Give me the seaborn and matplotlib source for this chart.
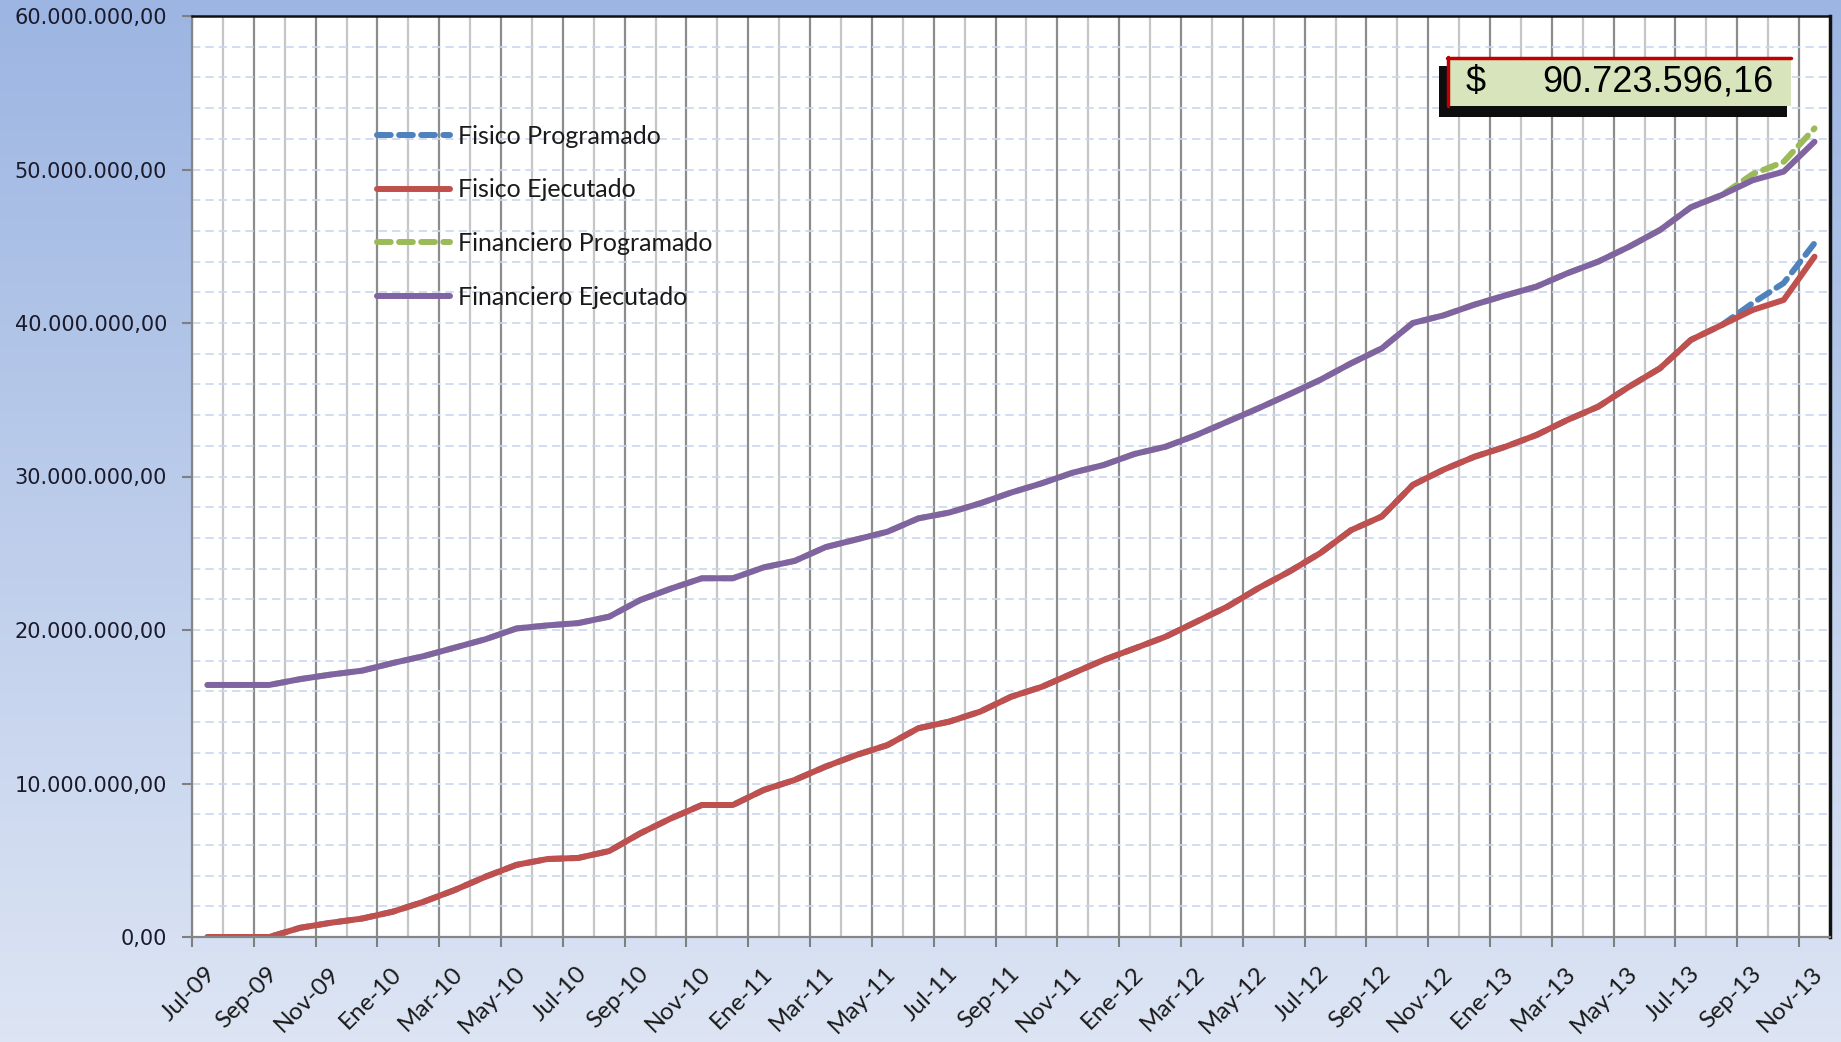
import numpy as np
import pandas as pd
import matplotlib.pyplot as plt
import matplotlib.ticker as mticker
import matplotlib.transforms as mtransforms
from matplotlib.patches import Rectangle
from matplotlib.lines import Line2D
import seaborn as sns

# meses Jul-09 .. Nov-13
nombres = ['Ene', 'Feb', 'Mar', 'Abr', 'May', 'Jun', 'Jul', 'Ago', 'Sep', 'Oct', 'Nov', 'Dic']
meses = [f'{nombres[(6 + k) % 12]}-{9 + (6 + k) // 12:02d}' for k in range(53)]

# valores en millones
fin_ejecutado = [16.42, 16.42, 16.42, 16.8, 17.1, 17.35, 17.85, 18.3, 18.85, 19.4,
                 20.1, 20.3, 20.45, 20.87, 21.95, 22.7, 23.37, 23.37, 24.08, 24.5,
                 25.4, 25.9, 26.4, 27.27, 27.65, 28.25, 28.95, 29.56, 30.25, 30.75,
                 31.47, 31.94, 32.7, 33.57, 34.44, 35.35, 36.29, 37.37, 38.35, 40.0,
                 40.5, 41.2, 41.8, 42.37, 43.24, 44.0, 44.97, 46.06, 47.54, 48.34,
                 49.3, 49.86, 51.81]
fin_programado = fin_ejecutado[:50] + [49.7, 50.5, 52.68]

fis_ejecutado = [0, 0, 0, 0.6, 0.93, 1.2, 1.65, 2.3, 3.06, 3.93,
                 4.7, 5.08, 5.15, 5.6, 6.75, 7.73, 8.6, 8.6, 9.58, 10.23,
                 11.1, 11.86, 12.5, 13.6, 14.03, 14.68, 15.65, 16.3, 17.18, 18.05,
                 18.8, 19.56, 20.54, 21.52, 22.72, 23.8, 25.0, 26.5, 27.4, 29.45,
                 30.45, 31.29, 31.94, 32.7, 33.68, 34.55, 35.85, 37.05, 38.9, 39.87,
                 40.85, 41.5, 44.32]
fis_programado = fis_ejecutado[:50] + [41.3, 42.6, 45.2]

total_texto = '90.723.596,16'

series = ['Fisico Programado', 'Fisico Ejecutado', 'Financiero Programado', 'Financiero Ejecutado']
colores = ['#4f81bd', '#c0504d', '#9bbb59', '#8064a2']
estilos = [(0, (2.3, 1.4)), '-', (0, (2.3, 1.4)), '-']

df = pd.DataFrame({
    'idx': np.arange(len(meses)),
    'Fisico Programado': np.array(fis_programado) * 1e6,
    'Fisico Ejecutado': np.array(fis_ejecutado) * 1e6,
    'Financiero Programado': np.array(fin_programado) * 1e6,
    'Financiero Ejecutado': np.array(fin_ejecutado) * 1e6,
})

sns.set_style('white')
plt.rcParams['font.family'] = ['DejaVu Sans']

W, H = 1841, 1042
fig = plt.figure(figsize=(W / 100, H / 100), dpi=100)

def fx(x):
    return x / W

def fy(y):
    return 1 - y / H

# fondo degradado
bg = fig.add_axes([0, 0, 1, 1], zorder=-10)
top = np.array([156, 181, 226]) / 255
bot = np.array([221, 229, 244]) / 255
t = np.linspace(0, 1, 256)[:, None]
grad = top[None, :] * (1 - t) + bot[None, :] * t
bg.imshow(grad[:, None, :], aspect='auto', extent=[0, 1, 0, 1])
bg.axis('off')

ax = fig.add_axes([fx(192), fy(937), fx(1830 - 192), (937 - 16) / H])
ax.set_facecolor('white')

for nombre, color, ls in zip(series, colores, estilos):
    sns.lineplot(data=df, x='idx', y=nombre, ax=ax, color=color, linewidth=4.3,
                 linestyle=ls, dash_capstyle='round', solid_capstyle='round', label=None)

n = len(meses)
ax.set_xlim(-0.5, n - 0.5)
ax.set_ylim(0, 60e6)
ax.set_xlabel('')
ax.set_ylabel('')

# eje y
ax.yaxis.set_major_locator(mticker.MultipleLocator(10e6))
ax.yaxis.set_minor_locator(mticker.MultipleLocator(2e6))
ax.yaxis.set_major_formatter(mticker.FuncFormatter(
    lambda v, p: f'{v:,.2f}'.replace(',', 'X').replace('.', ',').replace('X', '.')))
ax.tick_params(axis='y', which='major', length=7, width=1.5, color='#7f7f7f', direction='out',
               pad=11, labelsize=15, labelcolor='#1a1a2a', left=True)
ax.tick_params(axis='y', which='minor', length=0)
ax.grid(True, axis='y', which='both', color='#cad7f0', linestyle=(0, (5, 3)), linewidth=1.2)

# eje x: etiquetas en el centro, ticks en los limites
ax.set_xticks(np.arange(0, n, 2))
ax.set_xticklabels(meses[::2], rotation=45, ha='right', va='center', rotation_mode='anchor',
                   fontsize=17.5, family=['Lato', 'DejaVu Sans'], color='#1a1a1a')
ax.tick_params(axis='x', which='major', length=0, pad=24)
desplaza = mtransforms.ScaledTranslation(5 / 100, 0, fig.dpi_scale_trans)
for lab in ax.get_xticklabels():
    lab.set_transform(lab.get_transform() + desplaza)
ax.set_xticks(np.arange(-0.5, n, 2), minor=True)
ax.tick_params(axis='x', which='minor', length=7, width=1.5, color='#7f7f7f', direction='out', bottom=True)
ax.grid(True, axis='x', which='minor', color='#8c8c8c', linewidth=1.6)
ax.grid(False, axis='x', which='major')
ax.vlines(np.arange(0.5, n - 0.5, 2), 0, 1, transform=ax.get_xaxis_transform(),
          color='#c6c6c6', linewidth=1.6, zorder=0.5)

for s in ['left', 'bottom']:
    ax.spines[s].set_color('#868686')
    ax.spines[s].set_linewidth(1.6)
ax.spines['top'].set_color('#111111')
ax.spines['top'].set_linewidth(1.8)
ax.spines['right'].set_color('#111111')
ax.spines['right'].set_linewidth(2.5)
ax.set_axisbelow(True)

# leyenda
handles = [Line2D([0], [0], color=c, linestyle=ls, linewidth=4.3, dash_capstyle='round',
                  solid_capstyle='round') for c, ls in zip(colores, estilos)]
leg = ax.legend(handles, series, loc='upper left', bbox_to_anchor=(0.113, 0.882), frameon=False,
                prop={'family': ['Lato', 'DejaVu Sans'], 'size': 18}, handlelength=2.9,
                handletextpad=0.33, labelspacing=1.23, borderpad=0, borderaxespad=0)
for txt in leg.get_texts():
    txt.set_color('#1a1a1a')

# recuadro con el total
fig.patches.append(Rectangle((fx(1439), fy(117)), fx(1787 - 1439), (117 - 66) / H,
                             transform=fig.transFigure, facecolor='#0d0d0d', edgecolor='none', zorder=5))
fig.patches.append(Rectangle((fx(1447), fy(106)), fx(1791 - 1447), (106 - 57) / H,
                             transform=fig.transFigure, facecolor='#d8e4bc', edgecolor='none', zorder=6))
fig.add_artist(Line2D([fx(1447), fx(1791)], [fy(58), fy(58)], transform=fig.transFigure,
                      color='#c00000', linewidth=2.5, zorder=7))
fig.add_artist(Line2D([fx(1448), fx(1448)], [fy(57), fy(106)], transform=fig.transFigure,
                      color='#c00000', linewidth=2.5, zorder=7))
fig.text(fx(1466), fy(82), '$', fontsize=26, family=['Liberation Sans', 'DejaVu Sans'],
         ha='left', va='center', color='black', zorder=8)
fig.text(fx(1773), fy(82), total_texto, fontsize=26, family=['Liberation Sans', 'DejaVu Sans'],
         ha='right', va='center', color='black', zorder=8)

plt.savefig('out.png', dpi=100)
